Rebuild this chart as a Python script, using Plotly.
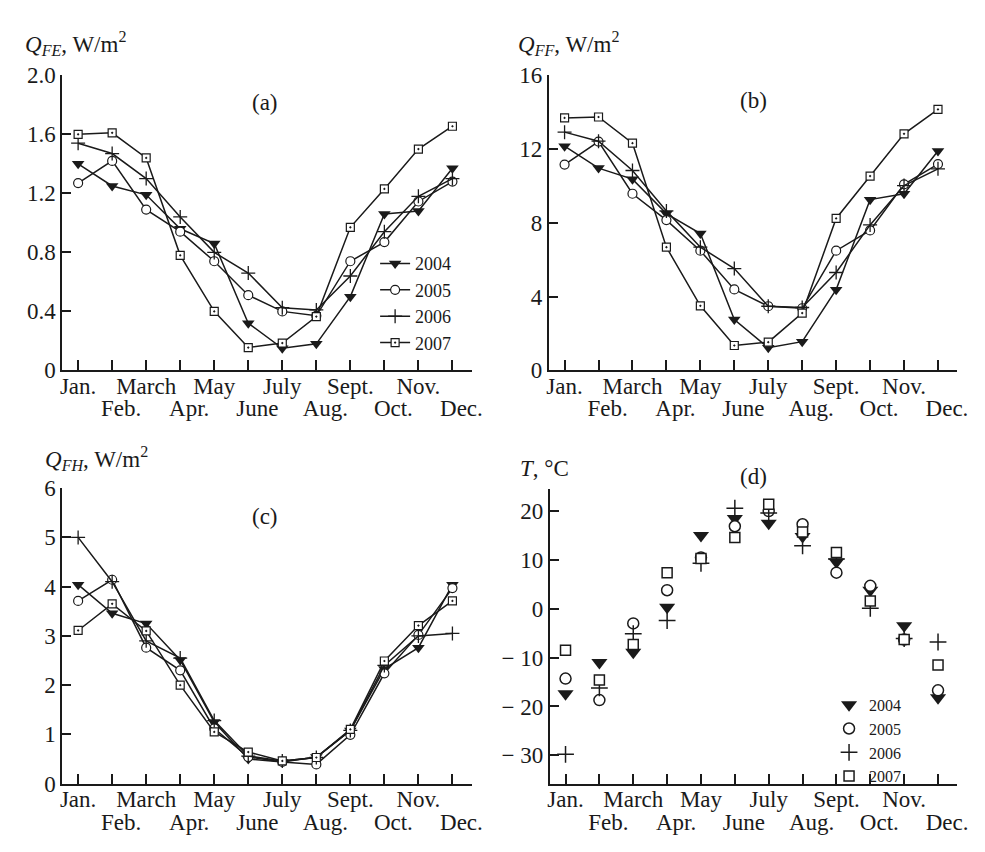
import plotly.graph_objects as go

# ---------------- data ----------------
months = ["Jan.", "Feb.", "March", "Apr.", "May", "June",
          "July", "Aug.", "Sept.", "Oct.", "Nov.", "Dec."]
month_num = list(range(1, 13))
years = ["2004", "2005", "2006", "2007"]

qfe_2004 = [1.40, 1.25, 1.19, 0.96, 0.86, 0.32, 0.15, 0.18, 0.50, 1.06, 1.08, 1.37]
qfe_2005 = [1.27, 1.42, 1.09, 0.94, 0.74, 0.51, 0.40, 0.37, 0.74, 0.87, 1.145, 1.28]
qfe_2006 = [1.54, 1.47, 1.30, 1.04, 0.80, 0.66, 0.425, 0.41, 0.64, 0.94, 1.18, 1.30]
qfe_2007 = [1.60, 1.61, 1.44, 0.78, 0.40, 0.155, 0.185, 0.365, 0.97, 1.23, 1.50, 1.655]

qff_2004 = [12.16, 10.97, 10.37, 8.50, 7.42, 2.76, 1.23, 1.56, 4.38, 9.26, 9.58, 11.90]
qff_2005 = [11.16, 12.41, 9.58, 8.15, 6.49, 4.39, 3.48, 3.37, 6.49, 7.59, 10.09, 11.19]
qff_2006 = [12.92, 12.43, 10.84, 8.65, 6.68, 5.52, 3.48, 3.41, 5.31, 7.89, 10.02, 10.93]
qff_2007 = [13.69, 13.74, 12.32, 6.68, 3.50, 1.35, 1.53, 3.11, 8.24, 10.54, 12.83, 14.15]

qfh_2004 = [4.04, 3.46, 3.25, 2.51, 1.25, 0.50, 0.44, 0.54, 1.08, 2.33, 2.76, 4.04]
qfh_2005 = [3.71, 4.14, 2.76, 2.30, 1.12, 0.54, 0.44, 0.39, 0.99, 2.24, 3.02, 3.97]
qfh_2006 = [5.00, 4.10, 2.90, 2.55, 1.28, 0.56, 0.46, 0.53, 1.08, 2.40, 3.00, 3.05]
qfh_2007 = [3.11, 3.65, 3.10, 2.00, 1.05, 0.64, 0.46, 0.53, 1.10, 2.49, 3.21, 3.71]

t_2004 = [-17.4, -11.0, -8.9, 0.3, 15.0, 18.5, 17.5, 14.8, 9.6, 3.8, -3.5, -18.2]
t_2005 = [-14.3, -18.7, -3.0, 3.8, 10.5, 16.9, 20.0, 17.3, 7.4, 4.7, -6.3, -16.7]
t_2006 = [-29.8, -16.2, -5.1, -2.4, 9.3, 20.6, 19.6, 12.9, 10.2, 0.1, -6.1, -6.8]
t_2007 = [-8.5, -14.6, -7.3, 7.4, 10.3, 14.6, 21.4, 15.7, 11.5, 1.6, -6.3, -11.5]

qfe_ticks = [0, 0.4, 0.8, 1.2, 1.6, 2.0]
qfe_ticktext = ["0", "0.4", "0.8", "1.2", "1.6", "2.0"]
qff_ticks = [0, 4, 8, 12, 16]
qfh_ticks = [0, 1, 2, 3, 4, 5, 6]
t_ticks = [-30, -20, -10, 0, 10, 20]
t_ticktext = ["\u2212 30", "\u2212 20", "\u2212 10", "0", "10", "20"]

# ---------------- styles ----------------
FONT = "Liberation Serif"
INK = "#1a1a1a"
TICK_SIZE = 23

line_markers = {
    "2004": dict(symbol="triangle-down", size=11, color=INK, line=dict(width=0)),
    "2005": dict(symbol="circle", size=9, color="white", line=dict(width=1.2, color=INK)),
    "2006": dict(symbol="cross-thin-open", size=10, color=INK, line=dict(width=1.3)),
    "2007": dict(symbol="square-dot", size=8, color="white", line=dict(width=1.2, color=INK)),
}
scatter_markers = {
    "2004": dict(symbol="triangle-down", size=14, color=INK, line=dict(width=0)),
    "2005": dict(symbol="circle", size=11, color="white", line=dict(width=1.5, color=INK)),
    "2006": dict(symbol="cross-thin-open", size=12, color=INK, line=dict(width=1.5)),
    "2007": dict(symbol="square", size=10, color="white", line=dict(width=1.5, color=INK)),
}

fig = go.Figure()

panels = [
    ("x", "y", [qfe_2004, qfe_2005, qfe_2006, qfe_2007], "legend", True),
    ("x2", "y2", [qff_2004, qff_2005, qff_2006, qff_2007], None, False),
    ("x3", "y3", [qfh_2004, qfh_2005, qfh_2006, qfh_2007], None, False),
]
for xa, ya, series, leg, show in panels:
    for yr, vals in zip(years, series):
        kw = dict(legend=leg) if leg else {}
        fig.add_trace(go.Scatter(
            x=month_num, y=vals, mode="lines+markers", name=yr,
            xaxis=xa, yaxis=ya, showlegend=show,
            line=dict(color=INK, width=1.5), marker=line_markers[yr], **kw))

for yr, vals in zip(years, [t_2004, t_2005, t_2006, t_2007]):
    fig.add_trace(go.Scatter(
        x=month_num, y=vals, mode="markers", name=yr,
        xaxis="x4", yaxis="y4", showlegend=True, legend="legend2",
        marker=scatter_markers[yr]))

# empty placeholder traces so the overlaid second-row label axes are drawn
for xa, ya in [("x5", "y"), ("x6", "y2"), ("x7", "y3"), ("x8", "y4")]:
    fig.add_trace(go.Scatter(x=month_num, y=[None] * len(month_num), mode="markers",
                             xaxis=xa, yaxis=ya, showlegend=False, hoverinfo="skip"))

W, H = 985, 852
XRANGE = [0.535, 12.57]


def xdom(l, r):
    return [l / W, r / W]


def ydom(b, t):
    return [1 - b / H, 1 - t / H]


tickfont = dict(family=FONT, size=TICK_SIZE, color=INK)
odd_vals = [m for i, m in enumerate(month_num) if i % 2 == 0]
odd_text = [lab for i, lab in enumerate(months) if i % 2 == 0]
even_vals = [m for i, m in enumerate(month_num) if i % 2 == 1]
even_text = [lab for i, lab in enumerate(months) if i % 2 == 1]


def xaxis(dom, anchor):
    return dict(domain=dom, anchor=anchor, range=XRANGE,
                showline=True, linecolor=INK, linewidth=2, mirror=False,
                showgrid=False, zeroline=False,
                tickmode="array", tickvals=odd_vals, ticktext=odd_text,
                ticks="inside", ticklen=10, tickwidth=2, tickcolor=INK,
                tickfont=tickfont, tickangle=0, ticklabelstandoff=-6)


def xaxis_row2(over, anchor):
    return dict(overlaying=over, anchor=anchor, range=XRANGE,
                showline=False, showgrid=False, zeroline=False,
                tickmode="array", tickvals=even_vals, ticktext=even_text,
                ticks="inside", ticklen=10, tickwidth=2, tickcolor=INK,
                tickfont=tickfont, tickangle=0,
                ticklabelstandoff=22, ticklabelshift=9)


def yaxis(dom, anchor, rng, vals, text=None):
    d = dict(domain=dom, anchor=anchor, range=rng,
             showline=True, linecolor=INK, linewidth=2, mirror=False,
             showgrid=False, zeroline=False,
             tickmode="array", tickvals=vals,
             ticks="inside", ticklen=9, tickwidth=2, tickcolor=INK,
             tickfont=tickfont)
    if text is not None:
        d["ticktext"] = text
    return d


fig.update_layout(
    width=W, height=H,
    margin=dict(l=0, r=0, t=0, b=0),
    paper_bgcolor="white", plot_bgcolor="white",
    font=dict(family=FONT, color=INK),
    xaxis=xaxis(xdom(53, 468), "y"),
    yaxis=yaxis(ydom(361, 57), "x", [0, 2.0], qfe_ticks, qfe_ticktext),
    xaxis2=xaxis(xdom(546, 960), "y2"),
    yaxis2=yaxis(ydom(361, 57), "x2", [0, 16], qff_ticks),
    xaxis3=xaxis(xdom(53, 468), "y3"),
    yaxis3=yaxis(ydom(786.7, 482.3), "x3", [0, 6], qfh_ticks),
    xaxis4=xaxis(xdom(547, 960), "y4"),
    yaxis4=yaxis(ydom(786.7, 483.3), "x4", [-35.8, 24.5], t_ticks, t_ticktext),
    xaxis5=xaxis_row2("x", "y"),
    xaxis6=xaxis_row2("x2", "y2"),
    xaxis7=xaxis_row2("x3", "y3"),
    xaxis8=xaxis_row2("x4", "y4"),
    legend=dict(x=370 / W, y=1 - 232 / H, xanchor="left", yanchor="top",
                bgcolor="rgba(0,0,0,0)", borderwidth=0,
                font=dict(family=FONT, size=18, color=INK),
                itemsizing="trace"),
    legend2=dict(x=830 / W, y=1 - 688 / H, xanchor="left", yanchor="top",
                 bgcolor="rgba(0,0,0,0)", borderwidth=0,
                 font=dict(family=FONT, size=16, color=INK),
                 itemsizing="trace"),
)

titles = [
    ("<i>Q</i><sub><i>FE</i></sub>, W/m<sup>2</sup>", 13, 24),
    ("<i>Q</i><sub><i>FF</i></sub>, W/m<sup>2</sup>", 513, 24),
    ("<i>Q</i><sub><i>FH</i></sub>, W/m<sup>2</sup>", 33, 452),
    ("<i>T</i>, °C", 515, 462),
]
for txt, px, py in titles:
    fig.add_annotation(text=txt, xref="paper", yref="paper", x=px / W, y=1 - py / H,
                       xanchor="left", yanchor="middle", showarrow=False,
                       font=dict(family=FONT, size=23, color=INK))

panel_labels = [("(a)", 258, 85), ("(b)", 753, 83), ("(c)", 258, 512), ("(d)", 753, 470)]
for txt, px, py in panel_labels:
    fig.add_annotation(text=txt, xref="paper", yref="paper", x=px / W, y=1 - py / H,
                       xanchor="center", yanchor="middle", showarrow=False,
                       font=dict(family=FONT, size=23, color=INK))

fig.write_html("out.html")
